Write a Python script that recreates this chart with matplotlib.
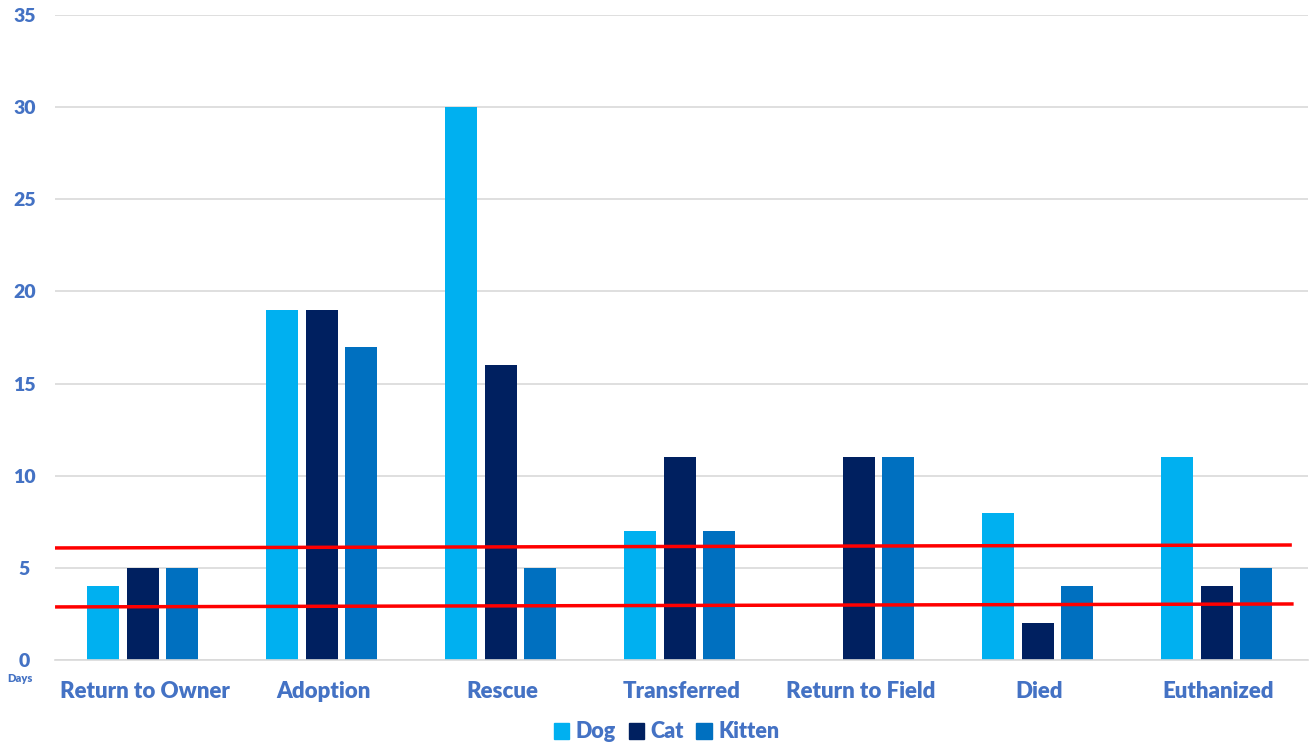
import numpy as np
from matplotlib import pyplot as plt
from matplotlib.patches import Patch

categories = ['Return to Owner', 'Adoption', 'Rescue', 'Transferred',
              'Return to Field', 'Died', 'Euthanized']
dog = [4, 19, 30, 7, 0, 8, 11]
cat = [5, 19, 16, 11, 11, 2, 4]
kitten = [5, 17, 5, 7, 11, 4, 5]
series_names = ['Dog', 'Cat', 'Kitten']
# two red reference lines (start value, end value)
upper_line = [6.08, 6.24]
lower_line = [2.88, 3.04]
yticks = [0, 5, 10, 15, 20, 25, 30, 35]

colors = ['#00B0F0', '#002060', '#0070C0']
text_color = '#4472C4'

plt.rcParams['font.family'] = ['Lato', 'DejaVu Sans']

fig = plt.figure(figsize=(13.12, 7.43), dpi=100)
ax = fig.add_axes([55 / 1312, 1 - 660 / 743, 1253 / 1312, 645 / 743])

x = np.arange(len(categories))
width = 0.178
offset = 0.22
for i, vals in enumerate([dog, cat, kitten]):
    ax.bar(x + (i - 1) * offset - 0.01, vals, width, color=colors[i], zorder=2)

ax.set_xlim(-0.5, len(categories) - 0.5)
ax.set_ylim(0, 35)
ax.set_yticks(yticks)
ax.grid(axis='y', color='#D9D9D9', linewidth=1.2, zorder=0)
for s in ['top', 'right', 'left']:
    ax.spines[s].set_visible(False)
ax.spines['bottom'].set_color('#D9D9D9')
ax.spines['bottom'].set_linewidth(1.2)
ax.tick_params(length=0)
ax.set_xticks(x)
ax.set_xticklabels(categories, fontsize=16, fontweight='heavy', color=text_color)
ax.tick_params(axis='x', pad=15)
ax.set_yticklabels([str(t) for t in yticks], fontsize=14, fontweight='heavy',
                   color=text_color)
ax.tick_params(axis='y', pad=22)
for lab in ax.get_yticklabels():
    lab.set_horizontalalignment('center')

# red reference lines
ax.plot([-0.5, 6.4], upper_line, color='red', linewidth=2.5, zorder=3)
ax.plot([-0.49, 6.41], lower_line, color='red', linewidth=2.5, zorder=3)

fig.text(20 / 1312, 1 - 678 / 743, 'Days', fontsize=8, fontweight='heavy',
         color=text_color, ha='center', va='center')

# title cut off at top of the image (only descenders show)
fig.text(0.68, 1.0 + 9 / 743, 'Average Length of Stay', fontsize=28,
         fontweight='heavy', color=text_color, ha='center', va='baseline')

handles = [Patch(color=c) for c in colors]
fig.legend(handles, series_names, loc='center', bbox_to_anchor=(0.508, 1 - 732 / 743),
           ncol=3, frameon=False, handlelength=0.7, handleheight=0.7,
           handletextpad=0.3, columnspacing=0.6,
           prop={'size': 15.5, 'weight': 'heavy'}, labelcolor=text_color)

fig.savefig('out.png', dpi=100)
